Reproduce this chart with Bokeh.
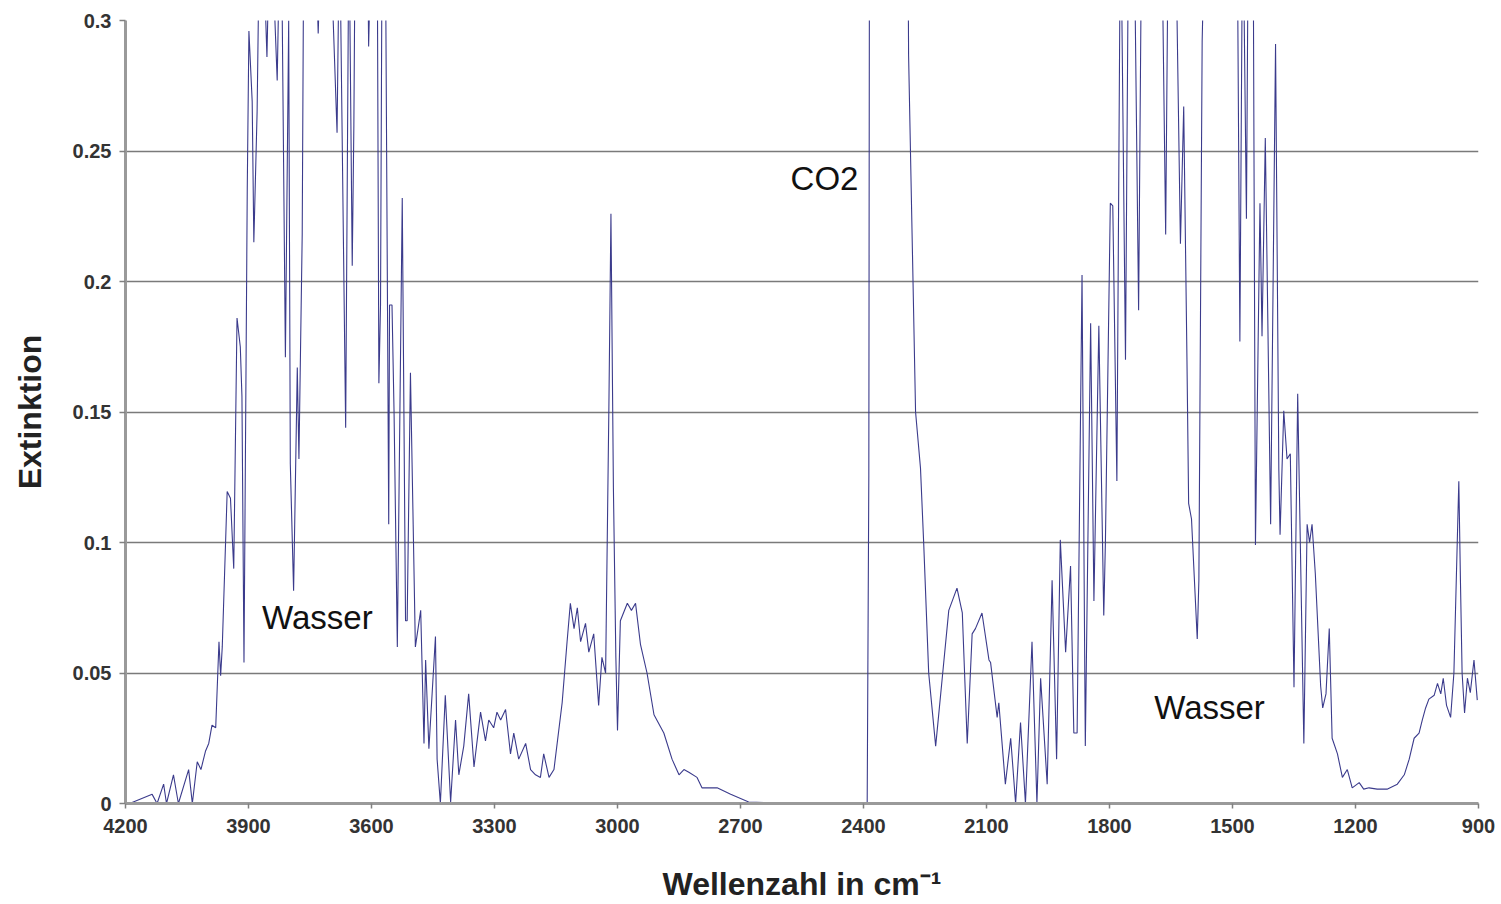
from bokeh.plotting import figure
from bokeh.models import Range1d, FixedTicker, NumeralTickFormatter, ColumnDataSource
from bokeh.core.properties import value
from bokeh.embed import file_html
from bokeh.resources import INLINE

# Wavenumber (cm^-1) and extinction (values > 0.3 are off-scale)
wavenumber = [
    4190, 4135, 4123, 4107, 4100, 4083, 4071, 4046, 4037, 4025, 4016, 4005, 3997, 3989, 3980,
    3972, 3968, 3964, 3952, 3944, 3936, 3928, 3920, 3916, 3911, 3903, 3899, 3891, 3887, 3879,
    3872, 3862, 3855, 3848, 3838, 3830, 3824, 3820, 3810, 3802, 3798, 3790, 3781, 3777, 3769,
    3765, 3740, 3730, 3720, 3700, 3684, 3678, 3663, 3655, 3647, 3643, 3640, 3610, 3607, 3600,
    3586, 3582, 3578, 3574, 3566, 3558, 3556, 3550, 3545, 3537, 3525, 3517, 3513, 3505, 3493,
    3480, 3472, 3468, 3460, 3444, 3440, 3432, 3420, 3407, 3395, 3387, 3375, 3363, 3350, 3334,
    3322, 3314, 3302, 3294, 3285, 3273, 3261, 3253, 3241, 3224, 3212, 3200, 3188, 3180, 3167,
    3155, 3135, 3123, 3115, 3106, 3098, 3090, 3078, 3070, 3058, 3046, 3038, 3029, 3021, 3016,
    3010, 3004, 3000, 2993, 2976, 2966, 2956, 2944, 2928, 2911, 2887, 2867, 2850, 2838, 2826,
    2806, 2794, 2757, 2724, 2680, 2600, 2500, 2391, 2387, 2385, 2294, 2290, 2273, 2261, 2253,
    2241, 2224, 2208, 2192, 2172, 2159, 2147, 2135, 2127, 2111, 2094, 2090, 2074, 2070, 2054,
    2041, 2029, 2017, 2005, 1989, 1977, 1968, 1952, 1940, 1929, 1920, 1907, 1895, 1887, 1879,
    1867, 1859, 1846, 1838, 1826, 1814, 1810, 1798, 1792, 1782, 1773, 1761, 1753, 1740, 1729,
    1721, 1700, 1672, 1663, 1656, 1640, 1627, 1619, 1611, 1607, 1600, 1586, 1582, 1574, 1566,
    1489, 1482, 1475, 1466, 1461, 1450, 1444, 1433, 1428, 1420, 1407, 1395, 1387, 1384, 1375,
    1367, 1359, 1350, 1341, 1326, 1318, 1312, 1306, 1298, 1285, 1280, 1272, 1264, 1257, 1244,
    1232, 1220, 1208, 1191, 1180, 1167, 1147, 1123, 1098, 1081, 1069, 1057, 1045, 1037, 1029,
    1021, 1008, 1000, 992, 986, 978, 968, 960, 952, 948, 944, 940, 934, 927, 920,
    911, 903,
]
extinction = [
    0.0, 0.0035, 0.0, 0.0074, 0.0, 0.011, 0.0, 0.013, 0.0, 0.016, 0.013, 0.020, 0.023, 0.030, 0.029,
    0.062, 0.049, 0.060, 0.1195, 0.117, 0.090, 0.186, 0.175, 0.156, 0.054, 0.236, 0.296, 0.269, 0.215, 0.265,
    0.35, 0.32, 0.286, 0.34, 0.31, 0.277, 0.33, 0.34, 0.171, 0.30, 0.13, 0.0815, 0.167, 0.132, 0.218,
    0.34, 0.35, 0.295, 0.35, 0.33, 0.257, 0.34, 0.144, 0.34, 0.206, 0.26, 0.33, 0.34, 0.29, 0.34,
    0.33, 0.161, 0.191, 0.34, 0.33, 0.107, 0.191, 0.191, 0.15, 0.060, 0.232, 0.07, 0.07, 0.165, 0.060,
    0.074, 0.023, 0.055, 0.021, 0.064, 0.017, 0.0, 0.0415, 0.0005, 0.032, 0.011, 0.022, 0.042, 0.014, 0.035,
    0.024, 0.032, 0.029, 0.035, 0.032, 0.036, 0.019, 0.027, 0.017, 0.023, 0.013, 0.011, 0.010, 0.019, 0.010,
    0.013, 0.0386, 0.062, 0.0767, 0.067, 0.075, 0.062, 0.069, 0.058, 0.065, 0.0376, 0.056, 0.050, 0.152, 0.226,
    0.121, 0.056, 0.028, 0.070, 0.0767, 0.074, 0.0767, 0.061, 0.050, 0.034, 0.027, 0.017, 0.011, 0.013, 0.012,
    0.010, 0.006, 0.006, 0.0035, 0.0006, 0.0, 0.0, 0.0, 0.126, 0.4, 0.4, 0.2865, 0.150, 0.1285, 0.099,
    0.050, 0.022, 0.048, 0.074, 0.0825, 0.073, 0.023, 0.065, 0.067, 0.073, 0.055, 0.054, 0.033, 0.0386, 0.0074,
    0.025, 0.0, 0.031, 0.0, 0.062, 0.0, 0.048, 0.0074, 0.0855, 0.017, 0.101, 0.058, 0.091, 0.027, 0.027,
    0.2025, 0.022, 0.184, 0.0776, 0.183, 0.072, 0.10, 0.230, 0.229, 0.1236, 0.35, 0.170, 0.35, 0.34, 0.189,
    0.35, 0.35, 0.33, 0.218, 0.35, 0.35, 0.2145, 0.267, 0.169, 0.115, 0.109, 0.063, 0.0855, 0.292, 0.35,
    0.35, 0.177, 0.35, 0.224, 0.35, 0.35, 0.099, 0.230, 0.179, 0.255, 0.107, 0.291, 0.128, 0.103, 0.1505,
    0.132, 0.134, 0.0445, 0.157, 0.023, 0.107, 0.100, 0.107, 0.088, 0.045, 0.0366, 0.042, 0.067, 0.025, 0.019,
    0.010, 0.013, 0.006, 0.008, 0.0055, 0.006, 0.0055, 0.0055, 0.0074, 0.011, 0.017, 0.025, 0.027, 0.032, 0.0366,
    0.040, 0.0415, 0.046, 0.042, 0.048, 0.0376, 0.033, 0.050, 0.099, 0.1235, 0.085, 0.05, 0.0347, 0.048, 0.0425,
    0.055, 0.0396,
]

x_ticks = [4200, 3900, 3600, 3300, 3000, 2700, 2400, 2100, 1800, 1500, 1200, 900]
y_ticks = [0, 0.05, 0.1, 0.15, 0.2, 0.25, 0.3]

annotations = ["Wasser", "CO2", "Wasser"]
annotation_x = [3732, 2495, 1556]
annotation_y = [0.0712, 0.2394, 0.0368]

FONT = "Liberation Sans"

p = figure(width=1501, height=904, output_backend="svg", toolbar_location=None,
           x_range=Range1d(4200, 900), y_range=Range1d(0, 0.3),
           min_border_left=125, min_border_right=23, min_border_top=20, min_border_bottom=101)
p.background_fill_color = "white"
p.border_fill_color = "white"
p.outline_line_color = None

src = ColumnDataSource(dict(x=wavenumber, y=extinction))
p.line("x", "y", source=src, line_color="#3b3b8c", line_width=1.1)

# axes
p.xaxis.ticker = FixedTicker(ticks=x_ticks)
p.yaxis.ticker = FixedTicker(ticks=y_ticks)
p.yaxis.formatter = NumeralTickFormatter(format="0.[00]")
p.xaxis.formatter = NumeralTickFormatter(format="0")
for ax in (p.xaxis, p.yaxis):
    ax.axis_line_color = "#9a9a9a"
    ax.axis_line_width = 3
    ax.major_tick_line_color = "#808080"
    ax.major_tick_line_width = 1.5
    ax.minor_tick_line_color = None
    ax.major_tick_in = 0
    ax.major_label_text_font = FONT
    ax.major_label_text_font_style = "bold"
    ax.major_label_text_font_size = "20px"
    ax.major_label_text_color = "#333333"
    ax.axis_label_text_font = FONT
    ax.axis_label_text_font_style = "bold"
    ax.axis_label_text_font_size = "32px"
    ax.axis_label_text_color = "#222222"
p.xaxis.major_tick_out = 5
p.yaxis.major_tick_out = 6
p.xaxis.major_label_standoff = 10
p.yaxis.major_label_standoff = 8
p.xaxis.axis_label = "Wellenzahl in cm\u207b\u00b9"
p.yaxis.axis_label = "Extinktion"
p.xaxis.axis_label_standoff = 30
p.yaxis.axis_label_standoff = 22

# grid
p.xgrid.grid_line_color = None
p.ygrid.grid_line_color = "#7a7a7a"
p.ygrid.grid_line_width = 1.5

# annotations
tsrc = ColumnDataSource(dict(x=annotation_x, y=annotation_y, t=annotations))
p.text("x", "y", text="t", source=tsrc, text_font=value(FONT), text_font_size="33px",
       text_align="center", text_baseline="middle", text_color="#111111")

open("out.html", "w").write(file_html(p, INLINE))
